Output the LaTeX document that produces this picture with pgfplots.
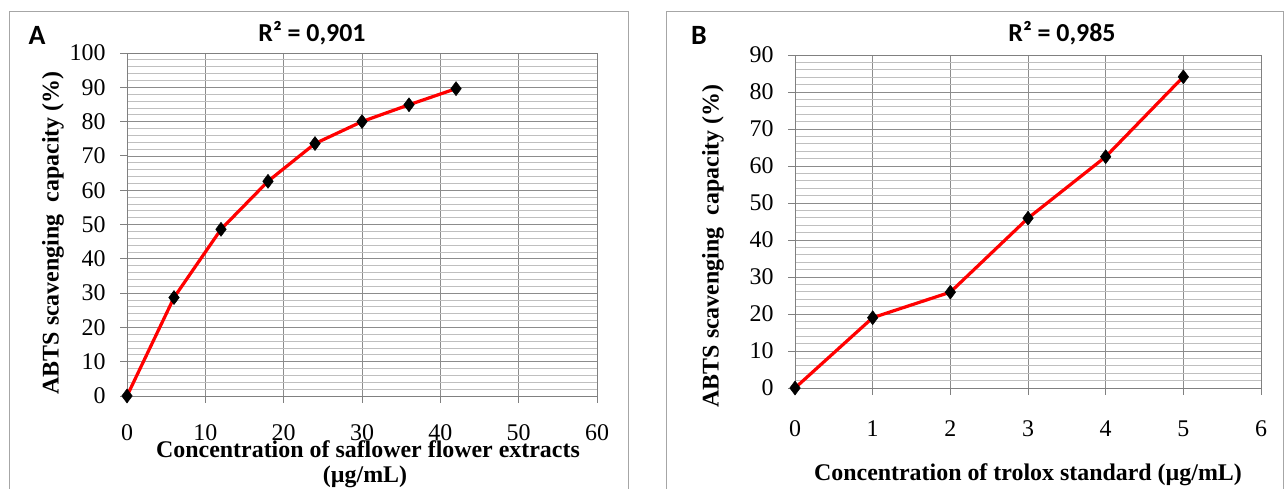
\documentclass[border=0pt]{standalone}
\usepackage{pgfplots}
\pgfplotsset{compat=1.18}
\usepackage{fontspec}
\setmainfont{Liberation Serif}
\newfontfamily\carlito{Carlito}

\pgfplotsset{
  panel/.style={
    scale only axis,
    anchor=south west,
    grid=both,
    major grid style={draw=black!45, line width=0.7bp},
    minor grid style={draw=black!25, line width=0.7bp},
    axis line style={draw=black!50, line width=0.8bp},
    tick align=outside,
    xtick pos=bottom, ytick pos=left,
    major tick length=7bp, minor tick length=0pt,
    tick style={draw=black!50, line width=0.8bp},
    minor y tick num=4,
    /pgf/number format/assume math mode=true,
    ticklabel style={font=\fontsize{24}{24}\selectfont},
    yticklabel style={xshift=-11bp},
  },
  curve/.style={red, line width=3.2bp, mark=diamond*,
    mark size=7bp, mark options={fill=black, draw=black, line width=0.5bp}},
}

\begin{document}
\begin{tikzpicture}[x=1bp,y=1bp]
\useasboundingbox (0,0) rectangle (1287,489);

% panel frames
\draw[black!35, line width=1bp] (9,0) -- (9,477) -- (628,477) -- (628,0);
\draw[black!35, line width=1bp] (666,0) -- (666,477) -- (1283,477) -- (1283,0);

% ---- panel A: saflower extract
\begin{axis}[panel,
  at={(127bp,93bp)}, width=470bp, height=343bp,
  xmin=0, xmax=60, ymin=0, ymax=100,
  xtick={0,10,...,60}, ytick={0,10,...,100},
  xticklabel style={yshift=-18bp},
]
\addplot[curve] coordinates {
  (0,0) (6,28.7) (12,48.6) (18,62.6) (24,73.6) (30,80.0) (36,84.9) (42,89.6)
};
\end{axis}

\node[font=\carlito\bfseries\fontsize{28}{28}\selectfont, anchor=base] at (37,444) {A};
\node[font=\carlito\bfseries\fontsize{26}{26}\selectfont, anchor=base] at (312,447) {R² = 0,901};
\node[font=\bfseries\fontsize{24}{24}\selectfont, rotate=90] at (53,256)
  {ABTS scavenging\ \ capacity (\%)};
\node[font=\bfseries\fontsize{24}{24}\selectfont] at (368,40)
  {Concentration of saflower flower extracts};
\node[font=\bfseries\fontsize{24}{24}\selectfont] at (365,12) {(µg/mL)};

% ---- panel B: trolox standard
\begin{axis}[panel,
  at={(795bp,101bp)}, width=466bp, height=333bp,
  xmin=0, xmax=6, ymin=0, ymax=90,
  xtick={0,1,...,6}, ytick={0,10,...,90},
  xticklabel style={yshift=-22bp},
]
\addplot[curve] coordinates {
  (0,0) (1,19.0) (2,25.9) (3,45.9) (4,62.5) (5,84.1)
};
\end{axis}

\node[font=\carlito\bfseries\fontsize{28}{28}\selectfont, anchor=base] at (699,444) {B};
\node[font=\carlito\bfseries\fontsize{26}{26}\selectfont, anchor=base] at (1062,447) {R² = 0,985};
\node[font=\bfseries\fontsize{24}{24}\selectfont, rotate=90] at (713,243)
  {ABTS scavenging\ \ capacity (\%)};
\node[font=\bfseries\fontsize{24}{24}\selectfont] at (1028,14)
  {Concentration of trolox standard (µg/mL)};
\end{tikzpicture}
\end{document}
